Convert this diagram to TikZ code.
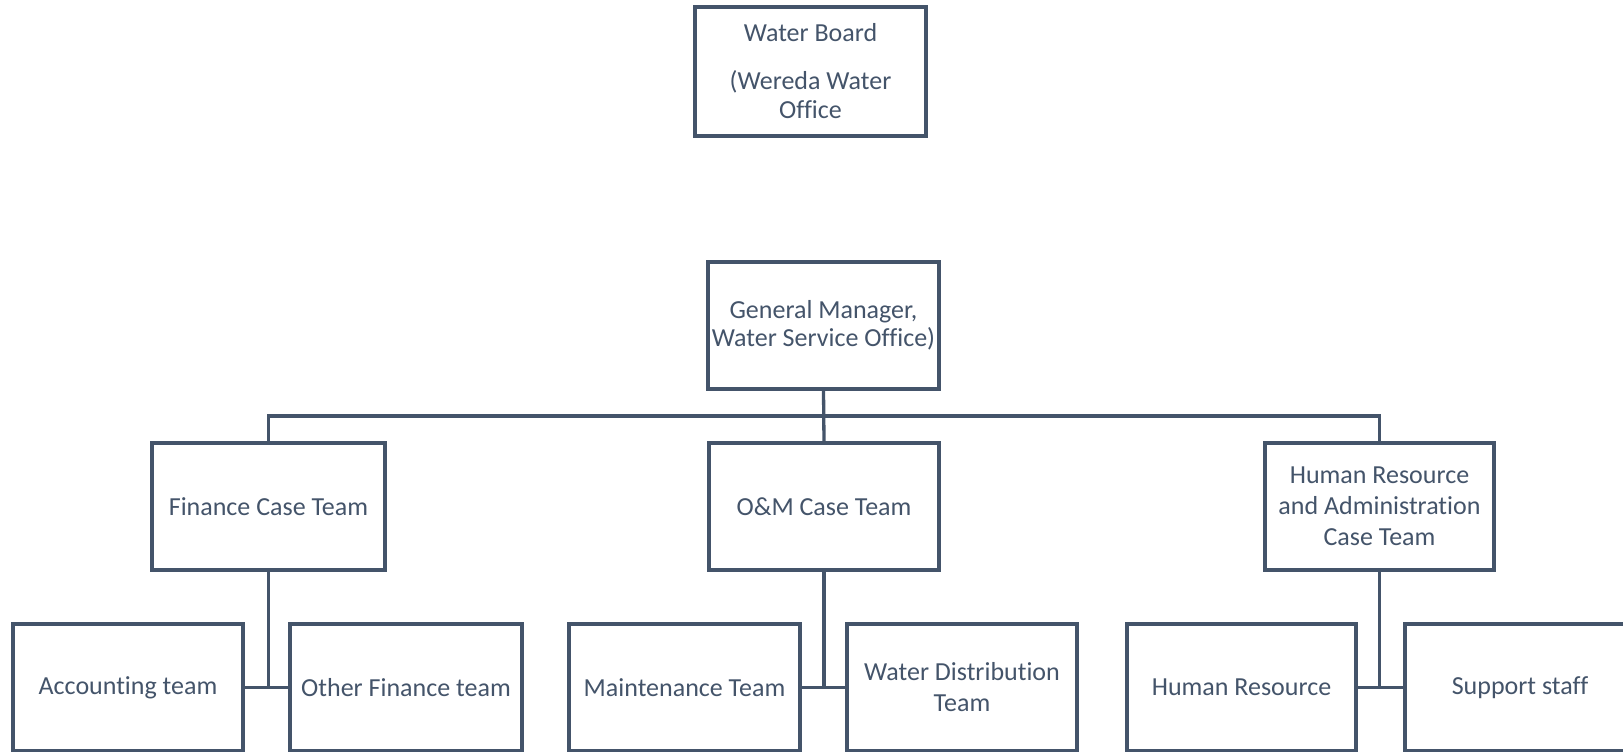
\documentclass[tikz,border=0pt]{standalone}
\usepackage{fontspec}
\setmainfont{Carlito}[Ligatures={NoCommon}]
\definecolor{slate}{HTML}{44546A}
\begin{document}
\begin{tikzpicture}[x=1pt,y=-1pt,
  box/.style={draw=slate, line width=3.4pt, text=slate, align=center,
    inner sep=0pt, minimum height=127pt,
    font=\fontsize{26}{31}\selectfont},
  link/.style={draw=slate, line width=3.3pt}]
\useasboundingbox (0,0) rectangle (1623,752);
\clip (0,0) rectangle (1623,752);
\fill[white] (0,0) rectangle (1623,752);
% top level
\node[box, minimum width=231pt, minimum height=129pt] (wb) at (810.5,71.5)
  {Water Board\\[17pt](Wereda Water\\[-2pt]Office};
\node[box, minimum width=231pt] (gm) at (823.5,325.5)
  {General Manager,\\[-3pt]Water Service Office)};
% case teams
\node[box, minimum width=233pt] (fin) at (268.5,506.5) {Finance Case Team};
\node[box, minimum width=230pt] (om) at (824,506.5) {O\&M Case Team};
\node[box, minimum width=229pt] (hr) at (1379.5,506.5)
  {Human Resource\\and Administration\\Case Team};
% bottom teams
\node[box, minimum width=230pt] (acc) at (128,687.5) {Accounting team};
\node[box, minimum width=232pt] (oth) at (406,687.5) {Other Finance team};
\node[box, minimum width=231pt] (mnt) at (684.5,687.5) {Maintenance Team};
\node[box, minimum width=230pt] (wd) at (962,687.5) {Water Distribution\\Team};
\node[box, minimum width=229pt] (hres) at (1241.5,687.5) {Human Resource};
\node[box, minimum width=230pt] (sup) at (1520,687.5) {Support staff};
% connectors
\coordinate (bar) at (823.5,416);
\draw[link] (gm.south) -- (om.north);
\draw[link] (fin.north) |- (bar) -| (hr.north);
\draw[link] (fin.south) -- (fin.south |- acc.east);
\draw[link] (acc.east) -- (oth.west);
\draw[link] (om.south) -- (om.south |- mnt.east);
\draw[link] (mnt.east) -- (wd.west);
\draw[link] (hr.south) -- (hr.south |- hres.east);
\draw[link] (hres.east) -- (sup.west);
\end{tikzpicture}
\end{document}
